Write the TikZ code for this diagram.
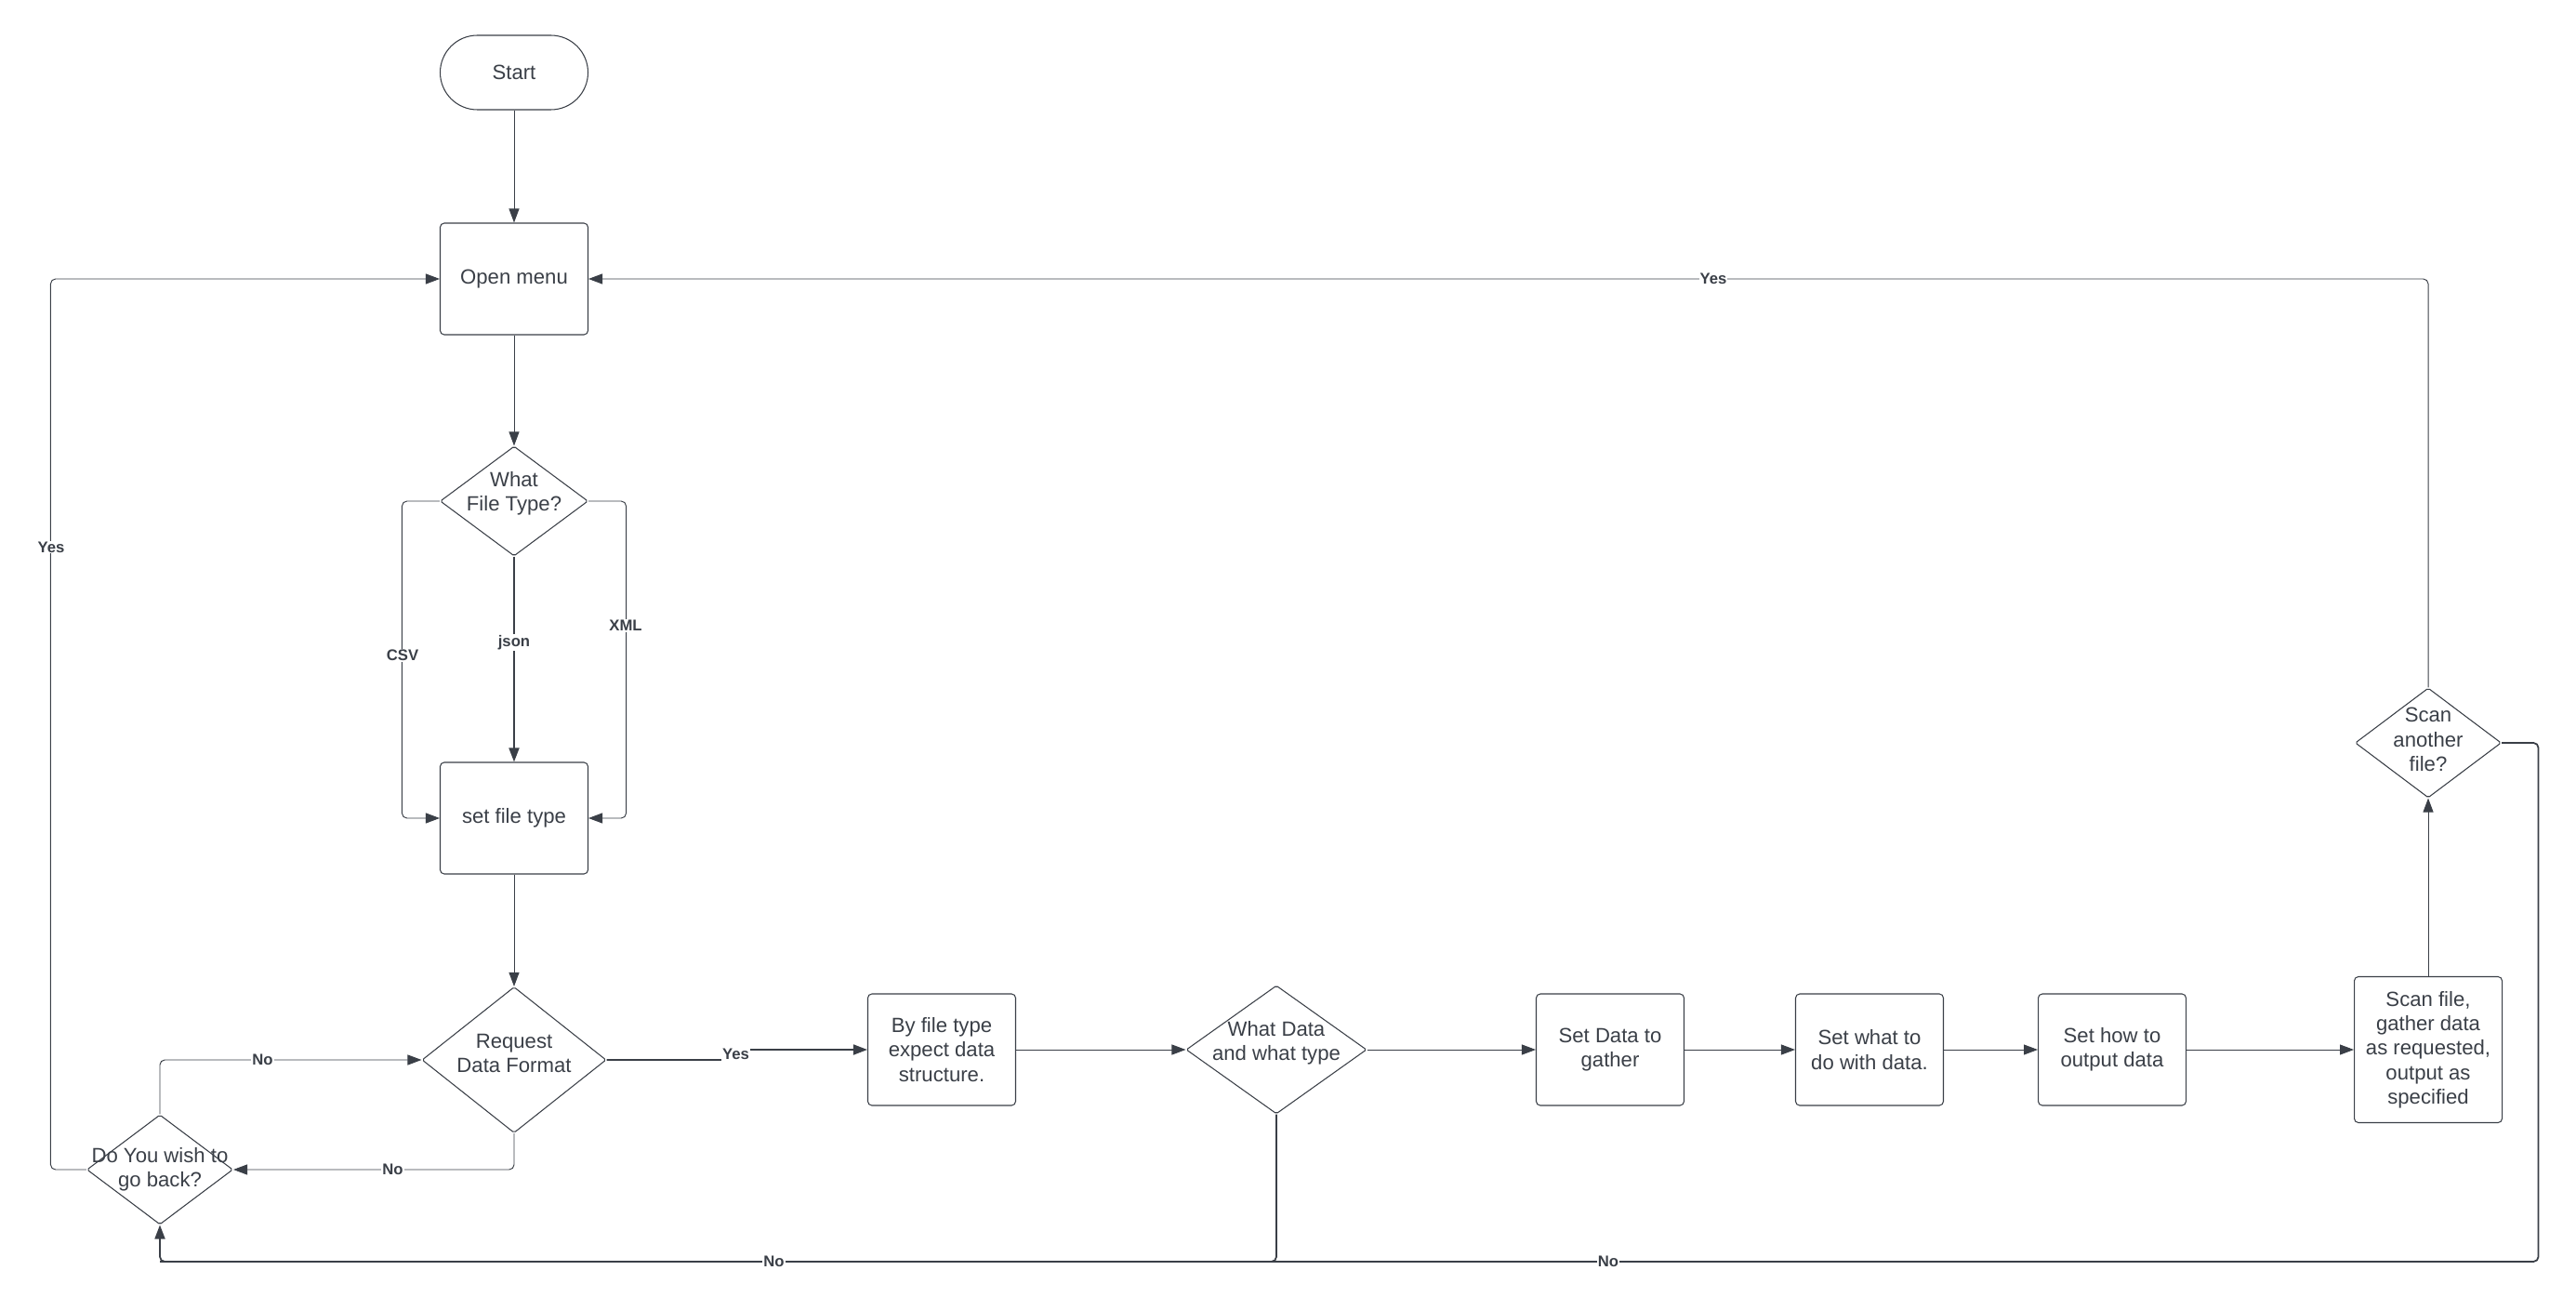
\documentclass[tikz,border=0pt]{standalone}
\usepackage{fontspec}
\setmainfont{Liberation Sans}
\usetikzlibrary{positioning,shapes.geometric,arrows.meta}
\definecolor{ink}{HTML}{3A3F47}

\begin{document}
\begin{tikzpicture}[every node/.style={text=ink,align=center,font=\fontsize{12.6}{15}\selectfont},
	box/.style={draw=ink,line width=0.6pt,rounded corners=2.5pt,inner sep=0pt,minimum width=3.18cm,minimum height=2.4cm},
	dia/.style={draw=ink,line width=0.6pt,diamond,rounded corners=1pt,inner sep=0pt},
	lbl/.style={fill=white,inner sep=0.6pt,font=\fontsize{9.5}{11}\selectfont\bfseries},
	conn/.style={draw=ink,line width=0.55pt,rounded corners=3pt},
	arr/.style={conn,-{Triangle[length=0.3cm,width=0.22cm]}},
	heavy/.style={line width=1.0pt}]

\useasboundingbox (0,0) rectangle (55.42,-28.18);
%\draw[color=black!30](0,-28)grid(55,0);

\node[box,rounded corners=0.8cm,minimum height=1.6cm] (start) at (11.06,-1.56) {Start};
\node[box] (menu) at (11.06,-6.0) {Open menu};
\node[dia,minimum width=3.18cm,minimum height=2.36cm,label={[yshift=0.16cm]center:What\\File Type?}] (ftype) at (11.06,-10.78) {};
\node[box] (stype) at (11.06,-17.6) {set file type};
\node[dia,minimum width=3.96cm,minimum height=3.14cm,label={[yshift=0.14cm]center:Request\\Data Format}] (req) at (11.06,-22.8) {};
\node[dia,minimum width=3.14cm,minimum height=2.36cm,label={center:Do You wish to\\go back?}] (back) at (3.44,-25.16) {};
\node[box] (bft) at (20.26,-22.58) {By file type\\expect data\\structure.};
\node[dia,minimum width=3.88cm,minimum height=2.76cm,label={[yshift=0.14cm]center:What Data\\and what type}] (wdat) at (27.46,-22.58) {};

\foreach[count=\c] \x/\t in {34.64/{Set Data to\\gather},40.22/{Set what to\\do with data.},45.44/{Set how to\\output data}}
	\node[box] (p\c) at (\x,-22.58) {\t};

\node[box,minimum height=3.14cm] (scan) at (52.24,-22.58) {Scan file,\\gather data\\as requested,\\output as\\specified};
\node[dia,minimum width=3.14cm,minimum height=2.36cm,label={[yshift=0.07cm]center:Scan\\another\\file?}] (again) at (52.24,-15.98) {};

\coordinate (bl) at (back.south |- 0,-27.14);

\draw[arr] (start) -- (menu);
\draw[arr] (menu) -- (ftype);
\draw[arr] (ftype.west) -| ([xshift=-0.81cm]stype.west) -- (stype.west);
\draw[arr,heavy] (ftype) -- (stype);
\draw[arr] (ftype.east) -| ([xshift=0.81cm]stype.east) -- (stype.east);
\draw[arr] (stype) -- (req);
\draw[arr,heavy] (req.east) -- ++(2.79,0) |- (bft.west);
\draw[arr] (req.south) |- (back.east);
\draw[arr] (back.north) |- (req.west);
\draw[arr] (back.west) -- ++(-0.77,0) |- (menu.west);
\draw[arr] (bft) -- (wdat);
\draw[arr] (wdat) -- (p1);
\draw[arr] (p1) -- (p2);
\draw[arr] (p2) -- (p3);
\draw[arr] (p3) -- (scan);
\draw[arr] (scan) -- (again);
\draw[arr] (again.north) |- (menu.east);
\draw[arr,heavy] (again.east) -- ++(0.79,0) |- (bl) -- (back.south);
\draw[conn,heavy] (wdat.south) |- (bl);

\node[lbl] (lcsv) at (8.66,-14.1) {CSV};
\node[lbl] (ljson) at (11.06,-13.82) {json};
\node[lbl] (lxml) at (13.46,-13.46) {XML};
\node[lbl] (lyes1) at (15.83,-22.68) {Yes};
\node[lbl] (lno1) at (8.45,-25.16) {No};
\node[lbl] (lno2) at (5.65,-22.8) {No};
\node[lbl] (lyes2) at (1.1,-11.77) {Yes};
\node[lbl] (lyes3) at (36.86,-6.0) {Yes};
\node[lbl] (lno3) at (16.65,-27.14) {No};
\node[lbl] (lno4) at (34.6,-27.14) {No};

\end{tikzpicture}
\end{document}
